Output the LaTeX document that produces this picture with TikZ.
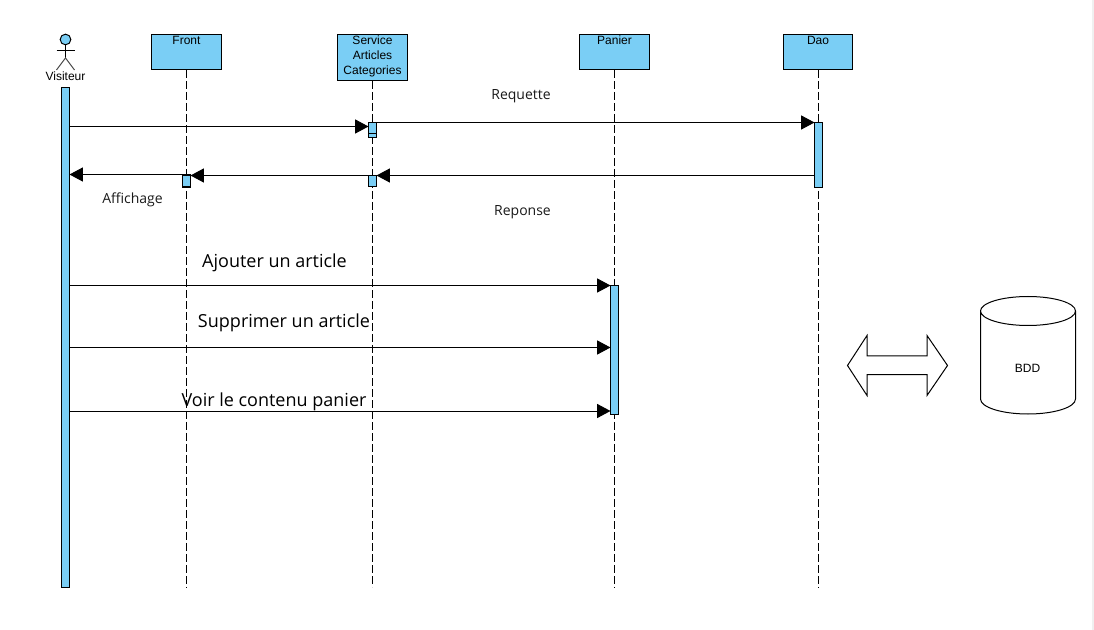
\documentclass[tikz,border=0pt]{standalone}
\usepackage{fontspec}
\setmainfont{Liberation Sans}
\newfontfamily\opensans{Open Sans}
\usetikzlibrary{positioning, arrows.meta}
\definecolor{lifeblue}{RGB}{122,206,245}

\begin{document}
\begin{tikzpicture}[
    x=0.75pt, y=-0.75pt,
    lifebox/.style={rectangle, draw=black, fill=lifeblue, line width=0.75pt, minimum width=52pt, minimum height=26pt, inner sep=0pt},
    boxtext/.style={font=\fontsize{9}{10.9}\selectfont, align=center, inner sep=0pt, anchor=north},
    bar/.style={rectangle, draw=black, fill=lifeblue, line width=0.75pt, minimum width=6pt, inner sep=0pt, outer sep=0pt},
    lifeline/.style={line width=0.75pt, dash pattern=on 6pt off 2.25pt},
    msg/.style={line width=0.75pt, -{Triangle[length=10pt, width=10.5pt]}},
    small/.style={font=\opensans\fontsize{10.5}{12}\selectfont, text=black!90},
    big/.style={font=\opensans\fontsize{13.5}{16}\selectfont, text=black}
]
\useasboundingbox (0,0) rectangle (1094,630);
\fill[black!6] (1092,0) rectangle (1094,630);

% Levels of the messages
\coordinate (lifeend) at (0,587);
\coordinate (m1) at (0,126.5);
\coordinate (m2) at (0,122.5);
\coordinate (m3) at (0,175.5);
\coordinate (m4) at (0,174.5);
\coordinate (add) at (0,285.5);
\coordinate (del) at (0,347.5);
\coordinate (see) at (0,411);

% Lifeline heads
\node[lifebox] (front) at (186.5,52) {};
\node[boxtext] (front_label) at (186.5,36) {Front};
\node[lifebox, minimum height=34.5pt] (service) at (372.5,57.5) {};
\node[boxtext] (service_label) at (372.5,36) {Service\\Articles\\Categories};
\node[lifebox] (panier) at (614.5,52) {};
\node[boxtext] (panier_label) at (614.5,36) {Panier};
\node[lifebox] (dao) at (818,52) {};
\node[boxtext] (dao_label) at (818,36) {Dao};

% Dashed lifelines
\foreach \head in {front,service,panier,dao}
{
    \draw[lifeline] (\head.south) -- (\head.south |- lifeend);
}

% Actor
\node[circle, draw=black, fill=lifeblue, line width=0.75pt, minimum size=8pt, inner sep=0pt] (head) at (65.5,39.5) {};
\coordinate (hip) at (65.5,58);
\coordinate (armleft) at (56.5,50.5);
\coordinate (armright) at (74.5,50.5);
\coordinate (footleft) at (56.5,70);
\coordinate (footright) at (74.5,70);
\draw[line width=0.75pt] (head) -- (hip);
\draw[line width=0.75pt] (armleft) -- (armright);
\draw[line width=0.75pt, black!70] (footleft) -- (hip) -- (footright);
\node[boxtext] (visiteur) at (65.5,72) {Visiteur};

% Activation bars
\node[bar, minimum height=374.6pt] (visiteur_bar) at (65.5,337.3) {};
\node[bar, minimum height=11.6pt] (service_bar1) at (372.5,130.2) {};
\draw[line width=0.75pt] (service_bar1.west |- 0,134) -- (service_bar1.east |- 0,134);
\node[bar, minimum height=8.5pt] (service_bar2) at (372.5,181.2) {};
\node[bar, minimum height=9pt, line width=1pt] (front_bar) at (186.5,181) {};
\node[bar, minimum height=48.7pt] (dao_bar) at (818.5,155) {};
\node[bar, minimum height=96.5pt] (panier_bar) at (614.5,349.7) {};

% Messages
\draw[msg] (visiteur_bar.east |- m1) -- (service_bar1.west |- m1);
\draw[msg] (service_bar1.east |- m2) -- (dao_bar.west |- m2);
\draw[msg] (dao_bar.west |- m3) -- (service_bar2.east |- m3);
\draw[msg] (service_bar2.west |- m3) -- (front_bar.east |- m3);
\draw[msg] (front_bar.west |- m4) -- (visiteur_bar.east |- m4);
\foreach \lvl in {add,del,see}
{
    \draw[msg] (visiteur_bar.east |- \lvl) -- (panier_bar.west |- \lvl);
}

% Labels
\node[small] (requette) at (521,96) {Requette};
\node[small] (affichage) at (132.5,200) {Affichage};
\node[small] (reponse) at (522.5,212) {Reponse};
\node[big] (ajouter) at (274.5,263) {Ajouter un article};
\node[big] (supprimer) at (284,323) {Supprimer un article};
\node[big] (voir) at (274,402) {Voir le contenu panier};

% Double arrow
\draw[line width=0.75pt] (847.5,365.5) -- (867,335.5) -- (867,356) -- (927,356) -- (927,335.5) -- (947.5,365.5)
    -- (927,395.5) -- (927,374.5) -- (867,374.5) -- (867,395.5) -- cycle;

% Database
\draw[line width=0.75pt] (980.5,311) arc[x radius=47.5, y radius=14.5, start angle=180, end angle=0]
    arc[x radius=47.5, y radius=14.5, start angle=0, end angle=-180]
    -- (980.5,399) arc[x radius=47.5, y radius=15, start angle=180, end angle=0] -- (1075.5,311);
\node[boxtext, anchor=center] (bdd_label) at (1027.5,368) {BDD};

\end{tikzpicture}
\end{document}
